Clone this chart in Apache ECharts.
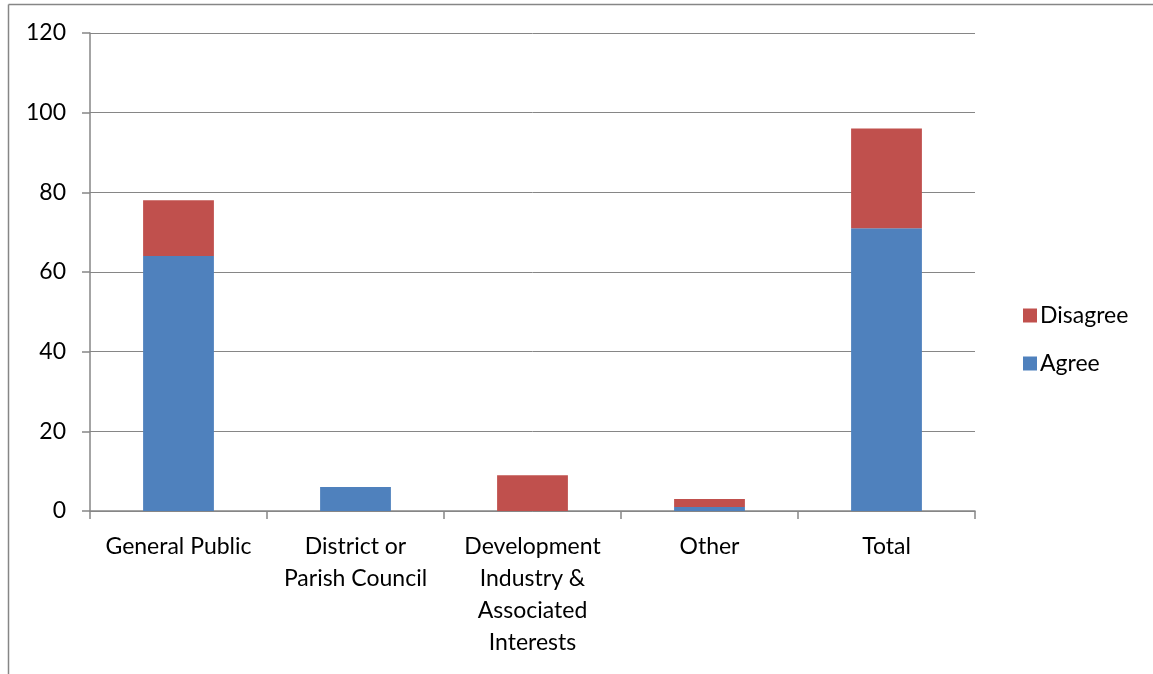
<!DOCTYPE html>
<html>
<head>
<meta charset="utf-8">
<script src="https://cdn.jsdelivr.net/npm/echarts@6/dist/echarts.min.js"></script>
<style>html,body{margin:0;padding:0;background:#fff;}#c{width:1153px;height:674px;}</style>
</head>
<body>
<div id="c"></div>
<script>
var categories = ["General Public", "District or\nParish Council", "Development\nIndustry &\nAssociated\nInterests", "Other", "Total"];
var agree = [64, 6, 0, 1, 71];
var disagree = [14, 0, 9, 2, 25];
var yTicks = [0, 20, 40, 60, 80, 100, 120];

var chart = echarts.init(document.getElementById('c'));
var font = 'Lato, "Open Sans", sans-serif';
chart.setOption({
  animation: false,
  backgroundColor: '#ffffff',
  textStyle: { fontFamily: font },
  graphic: [
    { type: 'line', shape: { x1: 8.5, y1: 4.5, x2: 1153, y2: 4.5 }, style: { stroke: '#868686', lineWidth: 1.5 } },
    { type: 'line', shape: { x1: 8.5, y1: 4.5, x2: 8.5, y2: 674 }, style: { stroke: '#868686', lineWidth: 1.5 } }
  ],
  grid: { left: 90, right: 178, top: 33, bottom: 163, containLabel: false },
  legend: {
    orient: 'vertical',
    left: 1018,
    top: 299,
    itemWidth: 14,
    itemHeight: 14,
    itemGap: 25,
    icon: 'rect',
    data: ['Disagree', 'Agree'],
    textStyle: { fontSize: 23, color: '#000', fontFamily: font, padding: [0, 0, 0, -2] }
  },
  xAxis: {
    type: 'category',
    data: categories,
    axisLine: { lineStyle: { color: '#868686', width: 1.5 } },
    axisTick: { show: true, length: 8, lineStyle: { color: '#868686', width: 1.5 } },
    axisLabel: { fontSize: 23, color: '#000', margin: 20, lineHeight: 32, interval: 0, fontFamily: font }
  },
  yAxis: {
    type: 'value',
    min: 0,
    max: 120,
    interval: 20,
    axisLine: { show: true, lineStyle: { color: '#868686', width: 1.5 } },
    axisTick: { show: true, length: 8, lineStyle: { color: '#868686', width: 1.5 } },
    splitLine: { lineStyle: { color: '#868686', width: 1 } },
    axisLabel: {
      fontSize: 23, color: '#000', margin: 24, fontFamily: font,
      formatter: function (v) { return yTicks.indexOf(v) >= 0 ? String(v) : ''; }
    }
  },
  series: [
    { name: 'Agree', type: 'bar', stack: 's', data: agree, barWidth: '40%', itemStyle: { color: '#4F81BD' } },
    { name: 'Disagree', type: 'bar', stack: 's', data: disagree, barWidth: '40%', itemStyle: { color: '#C0504D' } }
  ]
});
</script>
</body>
</html>
